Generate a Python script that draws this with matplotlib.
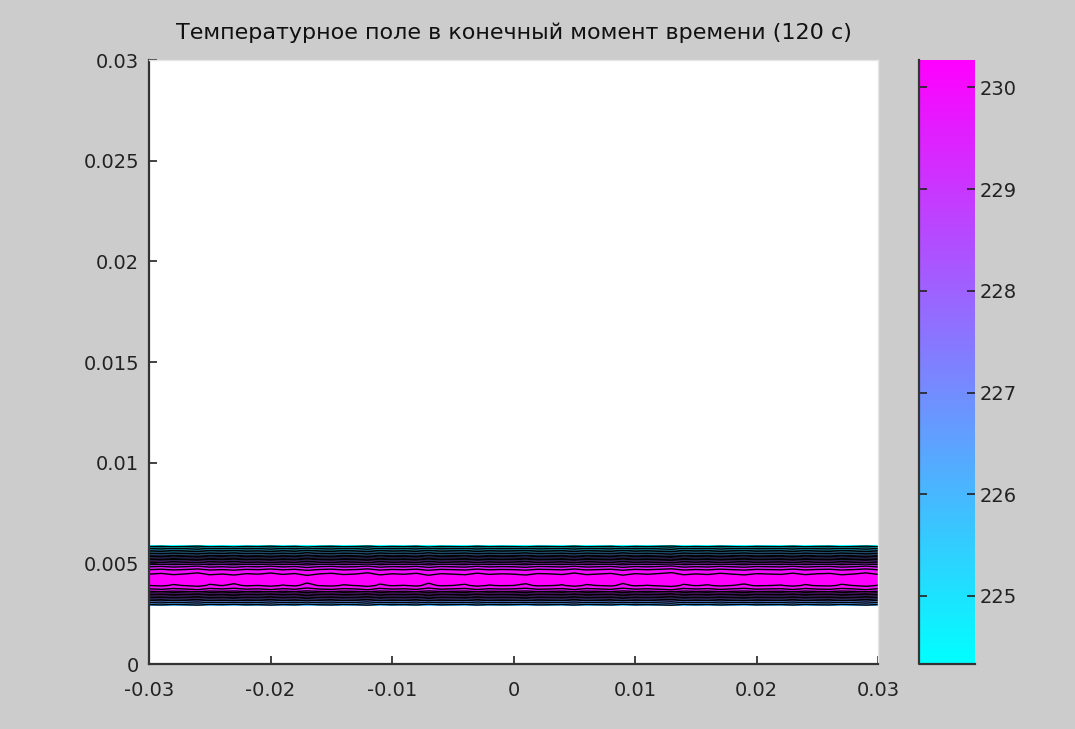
import numpy as np
import matplotlib
matplotlib.use("Agg")
import matplotlib.pyplot as plt
from matplotlib import cm, colors

# vertical temperature profile across the heated layer (y in m, T in deg)
y_rows = [0.00290, 0.00315, 0.00340, 0.00365, 0.00390, 0.00415, 0.00440,
          0.00465, 0.00490, 0.00515, 0.00540, 0.00565, 0.00590]
t_profile = [226.0, 227.0, 228.3, 229.6, 230.2, 230.4, 230.3,
             229.9, 229.2, 228.0, 226.6, 225.4, 224.3]
# small column-wise disturbance
ripple = [0.0, 0.06, -0.04, 0.02, 0.1, -0.05, 0.01, -0.07, 0.04, 0.0,
          0.09, -0.02, 0.05, -0.1, 0.02, 0.07, -0.03, 0.01, 0.11, -0.06,
          0.03, -0.01, 0.07, -0.09, 0.04, 0.0, -0.05, 0.08, -0.02, 0.03,
          0.0, -0.07, 0.05, 0.02, -0.03, 0.09, -0.04, 0.01, 0.06, -0.08,
          0.04, -0.01, 0.05, 0.12, -0.05, 0.02, -0.03, 0.07, 0.0, -0.06,
          0.04, 0.01, -0.02, 0.08, -0.04, 0.03, 0.06, -0.05, 0.01, 0.1, -0.02]

x_ticks = [-0.03, -0.02, -0.01, 0, 0.01, 0.02, 0.03]
x_labels = ["-0.03", "-0.02", "-0.01", "0", "0.01", "0.02", "0.03"]
y_ticks = [0, 0.005, 0.01, 0.015, 0.02, 0.025, 0.03]
y_labels = ["0", "0.005", "0.01", "0.015", "0.02", "0.025", "0.03"]
cbar_ticks = [225, 226, 227, 228, 229, 230]
t_min, t_max = 224.33, 230.27

title = "Температурное поле в конечный момент времени (120 с)"

plt.rcParams["font.family"] = ["DejaVu Sans"]

x_cols = np.linspace(-0.03, 0.03, len(ripple))
X, Y = np.meshgrid(x_cols, y_rows)
T = np.array(t_profile)[:, None] + np.array(ripple)[None, :]

fig = plt.figure(figsize=(10.75, 7.29), dpi=100, facecolor="#cccccc")
ax = fig.add_axes([149 / 1075, 65 / 729, 729 / 1075, 604 / 729])
ax.set_facecolor("white")

norm = colors.Normalize(vmin=t_min, vmax=t_max)
levels = np.arange(224.2, 230.7, 0.4)
ax.contourf(X, Y, T, levels=levels, cmap="cool", norm=norm, extend="both")
ax.contour(X, Y, T, levels=levels, colors="black", linewidths=1.0)

ax.set_xlim(-0.03, 0.03)
ax.set_ylim(0, 0.03)
ax.set_xticks(x_ticks)
ax.set_xticklabels(x_labels)
ax.set_yticks(y_ticks)
ax.set_yticklabels(y_labels)
ax.tick_params(direction="in", length=6, width=1.2, labelsize=14,
               colors="#222222")
ax.tick_params(axis="x", pad=12)
ax.tick_params(axis="y", pad=7)
for side in ["top", "right"]:
    ax.spines[side].set_color("#e6e6e6")
    ax.spines[side].set_linewidth(1)
for side in ["left", "bottom"]:
    ax.spines[side].set_color("#333333")
    ax.spines[side].set_linewidth(1.6)
ax.set_title(title, fontsize=16, color="#111111", pad=15)

cax = fig.add_axes([919 / 1075, 65 / 729, 56 / 1075, 604 / 729])
sm = cm.ScalarMappable(norm=norm, cmap="cool")
cbar = fig.colorbar(sm, cax=cax)
cbar.outline.set_visible(False)
cbar.set_ticks(cbar_ticks)
cbar.set_ticklabels([str(t) for t in cbar_ticks])
cax.tick_params(direction="in", left=True, right=True, labelright=True,
                length=6, width=1.2, labelsize=14, colors="#222222", pad=3)
cax.plot([0, 0, 1], [1, 0, 0], transform=cax.transAxes, color="#333333",
         lw=1.6, clip_on=False)

fig.savefig("out.png", dpi=100, facecolor=fig.get_facecolor())
